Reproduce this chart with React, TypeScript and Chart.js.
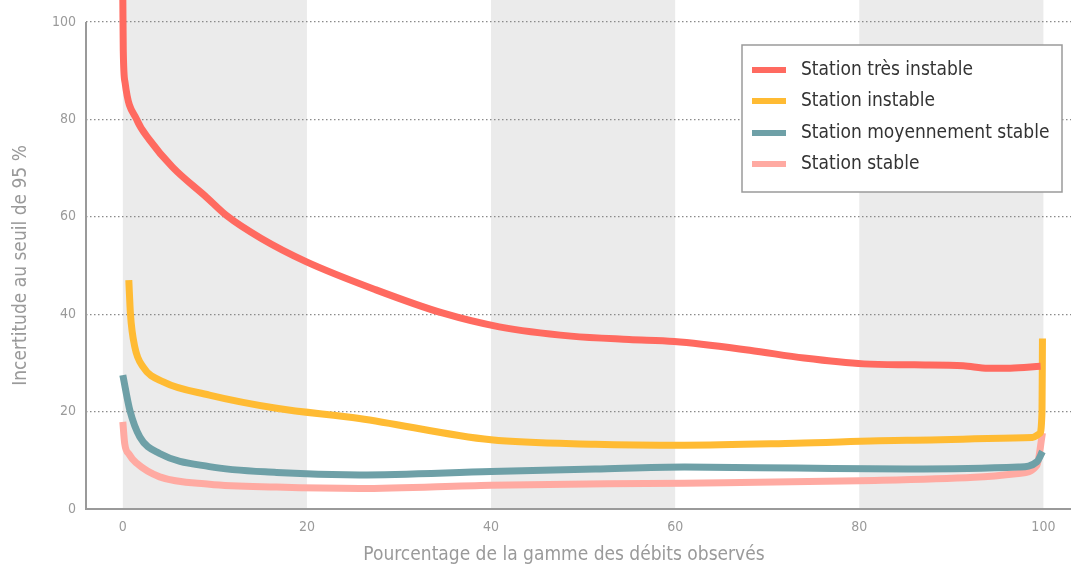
import React, { useEffect, useRef } from "react";
import { Chart, registerables } from "chart.js";

Chart.register(...registerables);

const seriesLabels = [
  "Station très instable",
  "Station instable",
  "Station moyennement stable",
  "Station stable",
];
const seriesColors = ["#ff6a60", "#ffbb33", "#6ea0a7", "#ffaaa2"];

const redX = [0, 0.05, 0.25, 1.5, 2.9, 5.4, 9.1, 11.3, 15, 19.9, 27.5, 34.8, 40.9, 48.7, 55, 59.9, 68.1, 74, 80.5, 86, 91.3, 94, 96.4, 99.7];
const redY = [105, 94, 87.5, 80, 75.8, 70.2, 64, 60.2, 55.6, 50.8, 45, 40.2, 37.4, 35.5, 34.8, 34.4, 32.6, 31, 29.8, 29.6, 29.4, 28.9, 28.9, 29.3];

const yellowX = [0.65, 0.83, 1.3, 2.2, 4.4, 9.4, 16.7, 25.7, 40, 51.3, 61, 73.1, 85.2, 98.8, 99.6, 99.85, 99.9];
const yellowY = [47, 40, 33.3, 29.2, 26.1, 23.4, 20.7, 18.6, 14.2, 13.3, 13.1, 13.5, 14.1, 14.7, 15.5, 20, 35];

const tealX = [0, 0.76, 1.85, 4, 9.4, 16.7, 25.7, 40, 51.3, 61, 73.1, 85.2, 97.3, 99.3, 99.9];
const tealY = [27.5, 20.3, 14.8, 11.4, 8.7, 7.5, 7.0, 7.7, 8.2, 8.6, 8.4, 8.2, 8.6, 9.7, 11.8];

const pinkX = [0, 0.2, 0.7, 1.5, 4, 9.4, 16.7, 25.7, 40, 61, 80, 92.5, 97.3, 99.3, 99.9];
const pinkY = [17.9, 13.5, 11.2, 9.4, 6.6, 5.1, 4.5, 4.2, 4.9, 5.3, 5.8, 6.5, 7.3, 9.0, 15.6];

const xTicks = [0, 20, 40, 60, 80, 100];
const yTicks = [0, 20, 40, 60, 80, 100];
const shadedBands = [
  [0, 20],
  [40, 60],
  [80, 100],
];

const xTitle = "Pourcentage de la gamme des débits observés";
const yTitle = "Incertitude au seuil de 95 %";

const FONT = '"DejaVu Sans Condensed", "Liberation Sans Narrow", "Open Sans", sans-serif';

function zip(xs: number[], ys: number[]) {
  return xs.map((x, i) => ({ x, y: ys[i] }));
}

const bandsPlugin = {
  id: "bands",
  beforeDraw(chart: any) {
    const { ctx, chartArea, scales } = chart;
    const xs = scales.x;
    ctx.save();
    ctx.fillStyle = "#ebebeb";
    for (const [a, b] of shadedBands) {
      const x1 = xs.getPixelForValue(a);
      const x2 = xs.getPixelForValue(b);
      ctx.fillRect(x1, 0, x2 - x1, chartArea.bottom);
    }
    ctx.restore();
  },
};

const axisLinesPlugin = {
  id: "axisLines",
  beforeDatasetsDraw(chart: any) {
    const { ctx, chartArea } = chart;
    ctx.save();
    ctx.setLineDash([]);
    ctx.strokeStyle = "#9a9a9a";
    ctx.lineWidth = 2;
    ctx.beginPath();
    ctx.moveTo(chartArea.left, chartArea.top);
    ctx.lineTo(chartArea.left, chartArea.bottom);
    ctx.lineTo(chartArea.right, chartArea.bottom);
    ctx.stroke();
    ctx.restore();
  },
};

const xTitlePlugin = {
  id: "xTitle",
  afterDraw(chart: any) {
    const { ctx } = chart;
    ctx.save();
    ctx.fillStyle = "#9a9a9a";
    ctx.font = `19px ${FONT}`;
    ctx.textAlign = "center";
    ctx.textBaseline = "middle";
    ctx.fillText(xTitle, 564, 555);
    ctx.restore();
  },
};

const legendPlugin = {
  id: "customLegend",
  afterDraw(chart: any) {
    const { ctx } = chart;
    const left = 742;
    const top = 45;
    const w = 320;
    const h = 147;
    ctx.save();
    ctx.fillStyle = "#ffffff";
    ctx.fillRect(left, top, w, h);
    ctx.strokeStyle = "#9a9a9a";
    ctx.lineWidth = 1.5;
    ctx.strokeRect(left, top, w, h);
    const rows = [70, 101, 133, 164];
    chart.data.datasets.forEach((ds: any, i: number) => {
      const y = rows[i];
      ctx.strokeStyle = ds.borderColor;
      ctx.lineWidth = 6;
      ctx.beginPath();
      ctx.moveTo(752, y);
      ctx.lineTo(786, y);
      ctx.stroke();
      ctx.fillStyle = "#333333";
      ctx.font = `19px ${FONT}`;
      ctx.textBaseline = "middle";
      ctx.textAlign = "left";
      ctx.fillText(ds.label, 801, y);
    });
    ctx.restore();
  },
};

export default function App() {
  const ref = useRef<HTMLCanvasElement | null>(null);
  useEffect(() => {
    if (!ref.current) return;
    const datasets = [
      [redX, redY],
      [yellowX, yellowY],
      [tealX, tealY],
      [pinkX, pinkY],
    ].map(([xs, ys], i) => ({
      label: seriesLabels[i],
      data: zip(xs, ys),
      borderColor: seriesColors[i],
      backgroundColor: seriesColors[i],
      borderWidth: 7,
      pointRadius: 0,
      fill: false,
      cubicInterpolationMode: "monotone" as const,
      clip: false as any,
    }));
    const chart = new Chart(ref.current, {
      type: "line",
      data: { datasets },
      plugins: [bandsPlugin, axisLinesPlugin, xTitlePlugin, legendPlugin],
      options: {
        animation: false,
        responsive: true,
        maintainAspectRatio: false,
        layout: { padding: { top: 22, right: 0, bottom: 0, left: 0 } },
        plugins: { legend: { display: false }, tooltip: { enabled: false } },
        scales: {
          x: {
            type: "linear",
            min: -4,
            max: 103,
            afterBuildTicks: (axis: any) => {
              axis.ticks = xTicks.map((v) => ({ value: v }));
            },
            afterFit: (axis: any) => {
              axis.height = 61;
            },
            grid: { display: false, drawTicks: false },
            border: { display: false },
            ticks: {
              color: "#9a9a9a",
              font: { family: FONT, size: 14 },
              padding: 10,
              maxRotation: 0,
            },
            title: { display: false, text: xTitle },
          },
          y: {
            type: "linear",
            min: 0,
            max: 100,
            afterBuildTicks: (axis: any) => {
              axis.ticks = yTicks.map((v) => ({ value: v }));
            },
            afterFit: (axis: any) => {
              axis.width = 86;
            },
            grid: {
              drawTicks: false,
              color: (c: any) => (c.tick && c.tick.value === 0 ? "rgba(0,0,0,0)" : "#8a8a8a"),
              lineWidth: 1.3,
            },
            border: { display: false, dash: [1.5, 2.5] } as any,
            ticks: {
              color: "#9a9a9a",
              font: { family: FONT, size: 14 },
              padding: 10,
            },
            title: {
              display: true,
              text: yTitle,
              color: "#9a9a9a",
              font: { family: FONT, size: 19 },
              padding: { top: 10, bottom: 0 },
            },
          },
        },
      },
    });
    return () => chart.destroy();
  }, []);
  return (
    <div style={{ position: "fixed", left: 0, top: 0, width: 1071, height: 570, background: "#ffffff" }}>
      <canvas ref={ref} />
    </div>
  );
}
